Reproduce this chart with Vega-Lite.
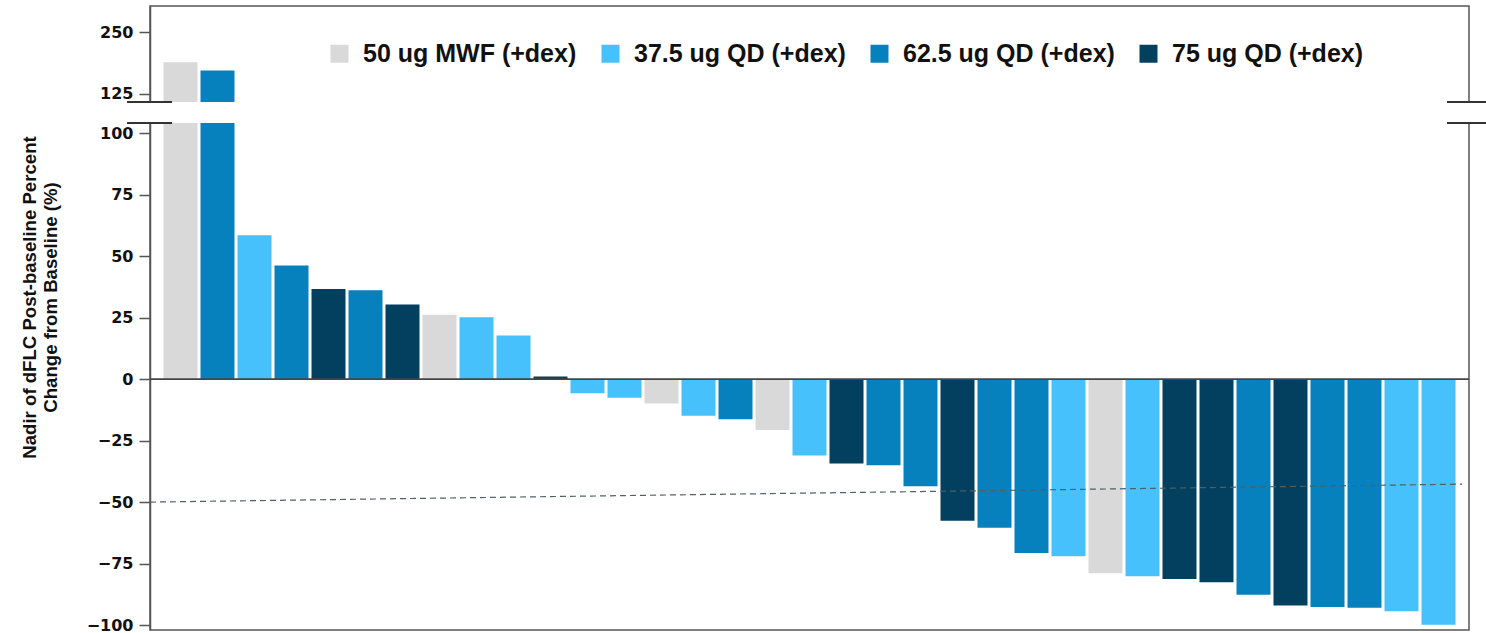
{
  "$schema": "https://vega.github.io/schema/vega-lite/v6.json",
  "width": 1319,
  "height": 624,
  "autosize": "none",
  "padding": {"left": 150, "top": 6, "right": 17, "bottom": 3},
  "background": "white",
  "config": {
    "view": {"stroke": "#555", "strokeWidth": 1.5},
    "font": "Liberation Sans",
    "axis": {"grid": false}
  },
  "datasets": {
    "bars": [
      {"id": 1, "group": "50 ug MWF (+dex)", "value": 189.2},
      {"id": 2, "group": "62.5 ug QD (+dex)", "value": 172.2},
      {"id": 3, "group": "37.5 ug QD (+dex)", "value": 58.5},
      {"id": 4, "group": "62.5 ug QD (+dex)", "value": 46.2},
      {"id": 5, "group": "75 ug QD (+dex)", "value": 36.6},
      {"id": 6, "group": "62.5 ug QD (+dex)", "value": 36.1},
      {"id": 7, "group": "75 ug QD (+dex)", "value": 30.3},
      {"id": 8, "group": "50 ug MWF (+dex)", "value": 26.2},
      {"id": 9, "group": "37.5 ug QD (+dex)", "value": 25.1},
      {"id": 10, "group": "37.5 ug QD (+dex)", "value": 17.7},
      {"id": 11, "group": "75 ug QD (+dex)", "value": 1.1},
      {"id": 12, "group": "37.5 ug QD (+dex)", "value": -5.8},
      {"id": 13, "group": "37.5 ug QD (+dex)", "value": -7.6},
      {"id": 14, "group": "50 ug MWF (+dex)", "value": -9.9},
      {"id": 15, "group": "37.5 ug QD (+dex)", "value": -14.9},
      {"id": 16, "group": "62.5 ug QD (+dex)", "value": -16.3},
      {"id": 17, "group": "50 ug MWF (+dex)", "value": -20.7},
      {"id": 18, "group": "37.5 ug QD (+dex)", "value": -31.1},
      {"id": 19, "group": "75 ug QD (+dex)", "value": -34.3},
      {"id": 20, "group": "62.5 ug QD (+dex)", "value": -35.0},
      {"id": 21, "group": "62.5 ug QD (+dex)", "value": -43.6},
      {"id": 22, "group": "75 ug QD (+dex)", "value": -57.6},
      {"id": 23, "group": "62.5 ug QD (+dex)", "value": -60.4},
      {"id": 24, "group": "62.5 ug QD (+dex)", "value": -70.7},
      {"id": 25, "group": "37.5 ug QD (+dex)", "value": -72.0},
      {"id": 26, "group": "50 ug MWF (+dex)", "value": -78.9},
      {"id": 27, "group": "37.5 ug QD (+dex)", "value": -80.2},
      {"id": 28, "group": "75 ug QD (+dex)", "value": -81.3},
      {"id": 29, "group": "75 ug QD (+dex)", "value": -82.6},
      {"id": 30, "group": "62.5 ug QD (+dex)", "value": -87.7},
      {"id": 31, "group": "75 ug QD (+dex)", "value": -92.0},
      {"id": 32, "group": "62.5 ug QD (+dex)", "value": -92.6},
      {"id": 33, "group": "62.5 ug QD (+dex)", "value": -93.0},
      {"id": 34, "group": "37.5 ug QD (+dex)", "value": -94.4},
      {"id": 35, "group": "37.5 ug QD (+dex)", "value": -99.9}
    ],
    "gap": [{"x": -0.01, "x2": 1.01, "lo": 104.1, "hi": 108.8}],
    "threshold": [{"x": 0, "x2": 0.9947, "y": -50.0, "y2": -42.7}],
    "breaks": [
      {"x": -0.0174, "x2": 0.0167, "y": 104.1},
      {"x": -0.0174, "x2": 0.0167, "y": 108.8},
      {"x": 0.9833, "x2": 1.0129, "y": 104.1},
      {"x": 0.9833, "x2": 1.0129, "y": 108.8}
    ]
  },
  "layer": [
    {
      "data": {"name": "bars"},
      "mark": {"type": "bar", "opacity": 1},
      "encoding": {
        "x": {
          "field": "id", "type": "ordinal", "axis": null,
          "scale": {"paddingInner": 0.081, "paddingOuter": 0.365}
        },
        "y": {
          "field": "value", "type": "quantitative",
          "scale": {
            "domain": [-102, 104.1, 108.8, 302.7],
            "range": [624, 117, 96, 0],
            "nice": false, "zero": false
          },
          "axis": {
            "values": [-100, -75, -50, -25, 0, 25, 50, 75, 100, 125, 250],
            "domainColor": "#555", "domainWidth": 1.5,
            "tickColor": "#555", "tickWidth": 1.5, "tickSize": 11,
            "labelFont": "DejaVu Sans", "labelFontWeight": "bold", "labelFontSize": 16,
            "labelColor": "#111", "labelPadding": 6,
            "title": ["Nadir of dFLC Post-baseline Percent", "Change from Baseline (%)"],
            "titleFont": "Liberation Sans", "titleFontSize": 18.6, "titleFontWeight": "bold",
            "titleColor": "#111", "titleLineHeight": 21,
            "titleX": -121, "titleY": 291, "titleBaseline": "middle", "titleAngle": -90, "titleAlign": "center"
          }
        },
        "color": {
          "field": "group", "type": "nominal",
          "scale": {
            "domain": ["50 ug MWF (+dex)", "37.5 ug QD (+dex)", "62.5 ug QD (+dex)", "75 ug QD (+dex)"],
            "range": ["#d9d9d9", "#47c1fc", "#0781be", "#033f5f"]
          },
          "legend": {
            "title": null, "orient": "none", "legendX": 177, "legendY": 35,
            "direction": "horizontal", "padding": 0,
            "symbolType": "square", "symbolSize": 324, "symbolStrokeWidth": 0, "symbolOpacity": 1,
            "labelFont": "Liberation Sans", "labelFontWeight": "bold", "labelFontSize": 25,
            "labelColor": "#111", "labelOffset": 11, "columnPadding": 21, "labelLimit": 400
          }
        }
      }
    },
    {
      "data": {"values": [{"z": 0}]},
      "mark": {"type": "rule", "color": "#444", "strokeWidth": 1.6},
      "encoding": {"y": {"field": "z", "type": "quantitative"}}
    },
    {
      "data": {"name": "threshold"},
      "mark": {"type": "rule", "color": "#4f6262", "strokeWidth": 1.2, "strokeDash": [6, 4]},
      "encoding": {
        "x": {"field": "x", "type": "quantitative", "axis": null, "scale": {"domain": [0, 1], "nice": false, "zero": false}},
        "x2": {"field": "x2"},
        "y": {"field": "y", "type": "quantitative"},
        "y2": {"field": "y2"}
      }
    },
    {
      "data": {"name": "gap"},
      "mark": {"type": "rect", "color": "white", "opacity": 1},
      "encoding": {
        "x": {"field": "x", "type": "quantitative", "axis": null, "scale": {"domain": [0, 1], "nice": false, "zero": false}},
        "x2": {"field": "x2"},
        "y": {"field": "lo", "type": "quantitative"},
        "y2": {"field": "hi"}
      }
    },
    {
      "data": {"name": "breaks"},
      "mark": {"type": "rule", "color": "#333", "strokeWidth": 2},
      "encoding": {
        "x": {"field": "x", "type": "quantitative", "axis": null, "scale": {"domain": [0, 1], "nice": false, "zero": false}},
        "x2": {"field": "x2"},
        "y": {"field": "y", "type": "quantitative"}
      }
    }
  ],
  "resolve": {"scale": {"x": "independent"}}
}
